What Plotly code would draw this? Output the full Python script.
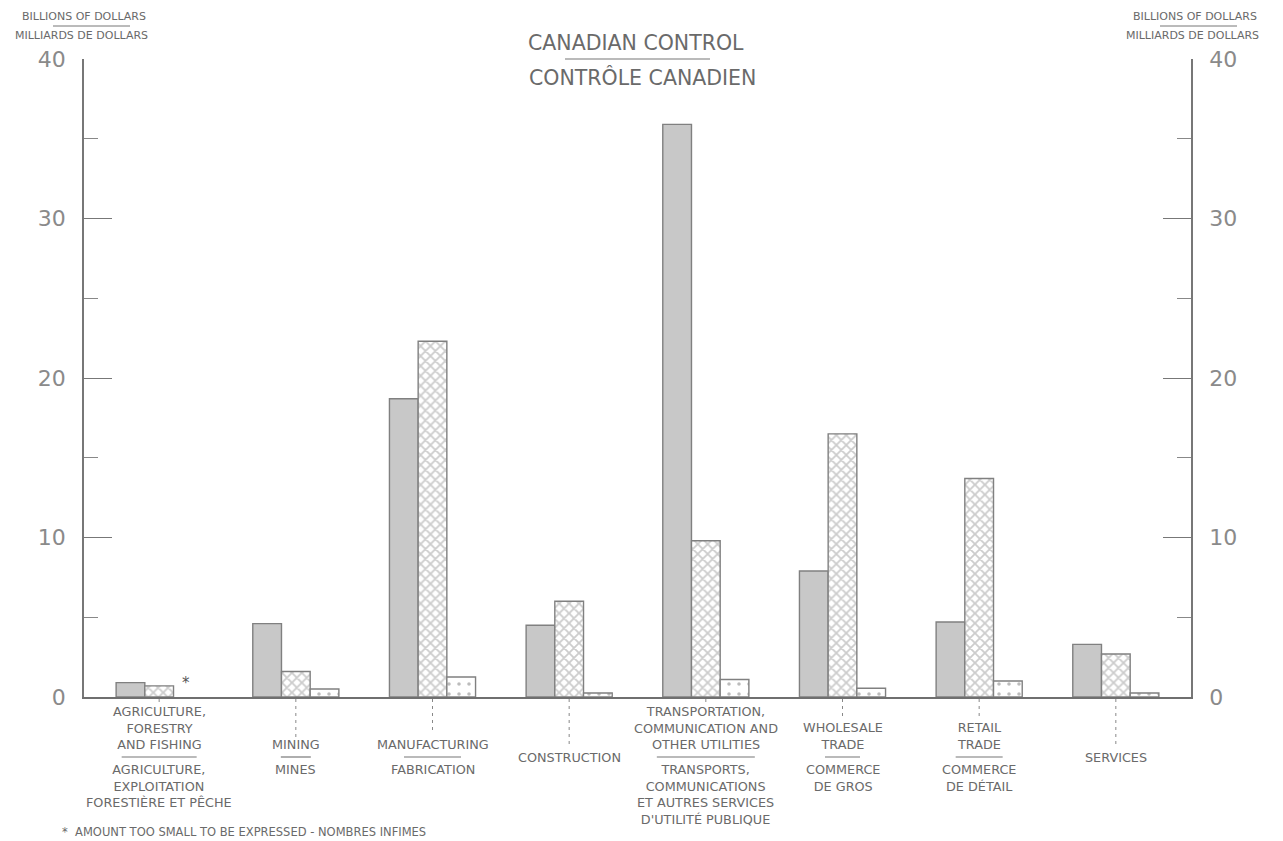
import plotly.graph_objects as go

# values in billions of dollars
categories = ["agriculture", "mining", "manufacturing", "construction",
              "transportation", "wholesale", "retail", "services"]
grey_vals = [0.9, 4.6, 18.7, 4.5, 35.9, 7.9, 4.7, 3.3]
cross_vals = [0.7, 1.6, 22.3, 6.0, 9.8, 16.5, 13.7, 2.7]
dot_vals = [None, 0.5, 1.25, 0.25, 1.1, 0.55, 1.0, 0.25]  # None = amount too small

en_labels = [
    "AGRICULTURE,<br>FORESTRY<br>AND FISHING",
    "MINING",
    "MANUFACTURING",
    "CONSTRUCTION",
    "TRANSPORTATION,<br>COMMUNICATION AND<br>OTHER UTILITIES",
    "WHOLESALE<br>TRADE",
    "RETAIL<br>TRADE",
    "SERVICES",
]
fr_labels = [
    "AGRICULTURE,<br>EXPLOITATION<br>FORESTIÈRE ET PÊCHE",
    "MINES",
    "FABRICATION",
    None,
    "TRANSPORTS,<br>COMMUNICATIONS<br>ET AUTRES SERVICES<br>D'UTILITÉ PUBLIQUE",
    "COMMERCE<br>DE GROS",
    "COMMERCE<br>DE DÉTAIL",
    None,
]
y_ticks = [0, 10, 20, 30, 40]

# page geometry (pixels on the page; the html body adds an 8px offset)
W, H = 1283, 841
OFF = 8
X_LEFT, X_RIGHT = 84, 1191      # axis lines
Y_TOP, Y_BASE = 59, 697         # 40 and 0
divider_w = [75, 30, 57, 0, 98, 35, 47, 0]
dash_len = [6, 40, 35, 47, 4, 20, 20, 47]

INK = "#6a6a6a"
FONT = "DejaVu Sans"


def py(y):
    return (Y_BASE - y) / (Y_BASE - Y_TOP)


def px_(x):
    return (x - X_LEFT) / (X_RIGHT - X_LEFT)


fig = go.Figure()
fig.add_bar(x=categories, y=grey_vals, name="grey",
            marker=dict(color="#c8c8c8", line=dict(color="#808080", width=1.4)))
fig.add_bar(x=categories, y=cross_vals, name="cross",
            marker=dict(color="white", line=dict(color="#808080", width=1.4),
                        pattern=dict(shape="x", fgcolor="#9a9a9a", bgcolor="white",
                                     size=7, solidity=0.45)))
fig.add_bar(x=categories, y=dot_vals, name="dots",
            marker=dict(color="white", line=dict(color="#808080", width=1.4),
                        pattern=dict(shape=".", fgcolor="#7a7a7a", bgcolor="white",
                                     size=10, solidity=0.1)))
# carrier for the right-hand axis
fig.add_scatter(x=categories, y=grey_vals, yaxis="y2", mode="none",
                hoverinfo="skip", showlegend=False)

axis_common = dict(
    range=[0, 40], tickvals=y_ticks, ticks="inside", ticklen=28, tickwidth=1.2,
    tickcolor="#777", showline=True, linecolor="#777", linewidth=1.5,
    showgrid=False, zeroline=False, ticklabelstandoff=12,
    tickfont=dict(family=FONT, size=22, color="#8a8a8a"),
    minor=dict(dtick=5, ticks="inside", ticklen=14, tickcolor="#888", tickwidth=1),
)

fig.update_layout(
    width=W, height=H,
    margin=dict(l=X_LEFT - OFF, r=W - X_RIGHT + OFF, t=Y_TOP - OFF, b=H - Y_BASE + OFF),
    paper_bgcolor="white", plot_bgcolor="white",
    showlegend=False,
    barmode="group", bargap=0.37, bargroupgap=0,
    xaxis=dict(range=[-0.55, 7.55], showticklabels=False, ticks="",
               showline=True, linecolor="#6f6f6f", linewidth=2, showgrid=False),
    yaxis=dict(side="left", **axis_common),
    yaxis2=dict(side="right", overlaying="y", **axis_common),
)

annotations = []
shapes = []
lab_font = dict(family=FONT, size=12.8, color=INK)
for i, cat in enumerate(categories):
    # dashed leader under the group
    shapes.append(dict(type="line", xref="x", yref="paper", x0=i, x1=i,
                       y0=py(699), y1=py(699 + dash_len[i]),
                       line=dict(color="#888", width=1, dash="3px,4px")))
    if fr_labels[i] is None:
        annotations.append(dict(x=i, xref="x", y=py(757), yref="paper",
                                text=en_labels[i], showarrow=False,
                                yanchor="middle", font=lab_font))
        continue
    annotations.append(dict(x=i, xref="x", y=py(754), yref="paper",
                            text=en_labels[i], showarrow=False,
                            yanchor="bottom", font=lab_font))
    annotations.append(dict(x=i, xref="x", y=py(760), yref="paper",
                            text=fr_labels[i], showarrow=False,
                            yanchor="top", font=lab_font))
    shapes.append(dict(type="line", xref="x", yref="paper", xsizemode="pixel",
                       xanchor=i, x0=-divider_w[i] / 2, x1=divider_w[i] / 2,
                       y0=py(757), y1=py(757), line=dict(color="#777", width=1.2)))

# asterisk where the amount is too small
annotations.append(dict(x=categories[0], y=0, text="*", showarrow=False,
                        xshift=27, yshift=3, yanchor="bottom",
                        font=dict(family=FONT, size=15, color="#555")))

# unit labels, both sides
for cx, ux0, ux1 in [(84, 53, 130), (1195, 1160, 1237)]:
    annotations.append(dict(x=px_(cx), xref="paper", y=py(16), yref="paper",
                            text="BILLIONS OF DOLLARS", showarrow=False,
                            xanchor="center", yanchor="middle",
                            font=dict(family=FONT, size=11, color=INK)))
    annotations.append(dict(x=px_(cx - 3), xref="paper", y=py(36), yref="paper",
                            text="MILLIARDS DE DOLLARS", showarrow=False,
                            xanchor="center", yanchor="middle",
                            font=dict(family=FONT, size=11, color=INK)))
    shapes.append(dict(type="line", xref="paper", yref="paper",
                       x0=px_(ux0), x1=px_(ux1), y0=py(26), y1=py(26),
                       line=dict(color="#777", width=1)))

# title
annotations.append(dict(x=px_(636), xref="paper", y=py(43), yref="paper",
                        text="CANADIAN CONTROL", showarrow=False,
                        xanchor="center", yanchor="middle",
                        font=dict(family=FONT, size=20.5, color=INK)))
annotations.append(dict(x=px_(642), xref="paper", y=py(77), yref="paper",
                        text="CONTRÔLE CANADIEN", showarrow=False,
                        xanchor="center", yanchor="middle",
                        font=dict(family=FONT, size=20.5, color=INK)))
shapes.append(dict(type="line", xref="paper", yref="paper",
                   x0=px_(565), x1=px_(710), y0=py(59), y1=py(59),
                   line=dict(color="#777", width=1.2)))

# footnote
annotations.append(dict(x=px_(60), xref="paper", y=py(832), yref="paper",
                        text="*  AMOUNT TOO SMALL TO BE EXPRESSED - NOMBRES INFIMES",
                        showarrow=False, xanchor="left", yanchor="middle",
                        font=dict(family=FONT, size=11.5, color=INK)))

fig.update_layout(annotations=annotations, shapes=shapes)
fig.write_html("out.html")
